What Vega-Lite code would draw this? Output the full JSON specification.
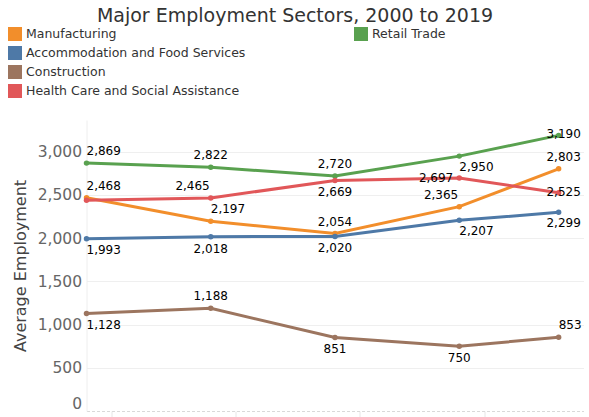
{
  "$schema": "https://vega.github.io/schema/vega-lite/v6.json",
  "width": 497,
  "height": 291,
  "autosize": {"type": "none"},
  "padding": {"left": 86.5, "top": 120, "right": 6, "bottom": 6},
  "background": "white",
  "title": {
    "text": "Major Employment Sectors, 2000 to 2019",
    "anchor": "middle",
    "frame": "group",
    "dx": -40,
    "dy": 20,
    "offset": 6,
    "baseline": "alphabetic",
    "font": "DejaVu Sans",
    "fontSize": 19,
    "fontWeight": "normal",
    "color": "#333333"
  },
  "config": {
    "view": {"stroke": null},
    "font": "DejaVu Sans",
    "legend": {
      "orient": "none",
      "legendX": -78.5,
      "legendY": -93,
      "columns": 2,
      "columnPadding": 108,
      "rowPadding": 5,
      "symbolType": "square",
      "symbolSize": 196,
      "symbolStrokeWidth": 0,
      "labelFont": "DejaVu Sans",
      "labelFontSize": 12.5,
      "labelColor": "#333333",
      "labelOffset": 4,
      "labelLimit": 400,
      "title": null
    }
  },
  "data": {
    "values": [
      {"sector": "Manufacturing", "year": 2000, "value": 2468},
      {"sector": "Manufacturing", "year": 2005, "value": 2197},
      {"sector": "Manufacturing", "year": 2010, "value": 2054},
      {"sector": "Manufacturing", "year": 2015, "value": 2365},
      {"sector": "Manufacturing", "year": 2019, "value": 2803},
      {"sector": "Retail Trade", "year": 2000, "value": 2869},
      {"sector": "Retail Trade", "year": 2005, "value": 2822},
      {"sector": "Retail Trade", "year": 2010, "value": 2720},
      {"sector": "Retail Trade", "year": 2015, "value": 2950},
      {"sector": "Retail Trade", "year": 2019, "value": 3190},
      {"sector": "Accommodation and Food Services", "year": 2000, "value": 1993},
      {"sector": "Accommodation and Food Services", "year": 2005, "value": 2018},
      {"sector": "Accommodation and Food Services", "year": 2010, "value": 2020},
      {"sector": "Accommodation and Food Services", "year": 2015, "value": 2207},
      {"sector": "Accommodation and Food Services", "year": 2019, "value": 2299},
      {"sector": "Construction", "year": 2000, "value": 1128},
      {"sector": "Construction", "year": 2005, "value": 1188},
      {"sector": "Construction", "year": 2010, "value": 851},
      {"sector": "Construction", "year": 2015, "value": 750},
      {"sector": "Construction", "year": 2019, "value": 853},
      {"sector": "Health Care and Social Assistance", "year": 2000, "value": 2440},
      {"sector": "Health Care and Social Assistance", "year": 2005, "value": 2465},
      {"sector": "Health Care and Social Assistance", "year": 2010, "value": 2669},
      {"sector": "Health Care and Social Assistance", "year": 2015, "value": 2697},
      {"sector": "Health Care and Social Assistance", "year": 2019, "value": 2525}
    ]
  },
  "encoding": {
    "x": {
      "field": "year",
      "type": "quantitative",
      "scale": {"domain": [2000, 2020], "nice": false, "zero": false},
      "axis": {
        "title": null,
        "labels": false,
        "values": [2001, 2006, 2011, 2016],
        "grid": false,
        "ticks": true,
        "tickSize": 10,
        "tickColor": "#e6e6e6",
        "domain": true,
        "domainColor": "#d9d9d9",
        "domainDash": [3, 2]
      }
    },
    "y": {
      "field": "value",
      "type": "quantitative",
      "scale": {"domain": [0, 3368], "nice": false},
      "axis": {
        "title": "Average Employment",
        "titleFont": "DejaVu Sans",
        "titleFontSize": 16,
        "titleFontWeight": "normal",
        "titleColor": "#444444",
        "titlePadding": 9,
        "values": [0, 500, 1000, 1500, 2000, 2500, 3000],
        "format": ",.0f",
        "labelFont": "DejaVu Sans",
        "labelFontSize": 15.5,
        "labelColor": "#666666",
        "labelPadding": 5,
        "labelFlush": true,
        "ticks": false,
        "grid": true,
        "gridColor": "#efefef",
        "gridOpacity": {"condition": {"test": "datum.value === 0", "value": 0}, "value": 1},
        "domain": true,
        "domainColor": "#eeeeee"
      }
    }
  },
  "layer": [
    {
      "mark": {"type": "line", "strokeWidth": 3},
      "encoding": {
        "color": {
          "field": "sector",
          "type": "nominal",
          "scale": {
            "domain": ["Manufacturing", "Accommodation and Food Services", "Construction", "Health Care and Social Assistance", "Retail Trade", "_a", "_b"],
            "range": ["#f28e2b", "#4e79a7", "#9c755f", "#e15759", "#59a14f", "transparent", "transparent"]
          },
          "legend": {
            "labelExpr": "indexof(datum.label, '_') === 0 ? '' : datum.label",
            "encode": {
              "symbols": {
                "update": {
                  "fill": {"scale": "color", "field": "value"},
                  "strokeWidth": {"value": 0},
                  "opacity": {"value": 1}
                }
              }
            }
          }
        }
      }
    },
    {
      "mark": {"type": "point", "filled": true, "size": 30, "opacity": 1},
      "encoding": {
        "color": {"field": "sector", "type": "nominal"}
      }
    },
    {
      "transform": [{"filter": "indexof(['Retail Trade2005','Retail Trade2010','Manufacturing2010','Construction2005'], datum.sector + datum.year) >= 0"}],
      "mark": {"type": "text", "align": "center", "baseline": "middle", "dy": -12, "fontSize": 12, "color": "#000000"},
      "encoding": {"text": {"field": "value", "type": "quantitative", "format": ","}}
    },
    {
      "transform": [{"filter": "indexof(['Retail Trade2000','Manufacturing2000','Manufacturing2005','Construction2019'], datum.sector + datum.year) >= 0"}],
      "mark": {"type": "text", "align": "left", "baseline": "middle", "dx": 0, "dy": -12, "fontSize": 12, "color": "#000000"},
      "encoding": {"text": {"field": "value", "type": "quantitative", "format": ","}}
    },
    {
      "transform": [{"filter": "indexof(['Health Care and Social Assistance2005','Manufacturing2015'], datum.sector + datum.year) >= 0"}],
      "mark": {"type": "text", "align": "right", "baseline": "middle", "dx": -1, "dy": -12, "fontSize": 12, "color": "#000000"},
      "encoding": {"text": {"field": "value", "type": "quantitative", "format": ","}}
    },
    {
      "transform": [{"filter": "indexof(['Health Care and Social Assistance2010','Accommodation and Food Services2005','Accommodation and Food Services2010','Construction2010','Construction2015'], datum.sector + datum.year) >= 0"}],
      "mark": {"type": "text", "align": "center", "baseline": "middle", "dy": 12, "fontSize": 12, "color": "#000000"},
      "encoding": {"text": {"field": "value", "type": "quantitative", "format": ","}}
    },
    {
      "transform": [{"filter": "indexof(['Retail Trade2015','Accommodation and Food Services2000','Accommodation and Food Services2015','Construction2000'], datum.sector + datum.year) >= 0"}],
      "mark": {"type": "text", "align": "left", "baseline": "middle", "dx": 0, "dy": 11, "fontSize": 12, "color": "#000000"},
      "encoding": {"text": {"field": "value", "type": "quantitative", "format": ","}}
    },
    {
      "transform": [{"filter": "indexof(['Health Care and Social Assistance2015'], datum.sector + datum.year) >= 0"}],
      "mark": {"type": "text", "align": "right", "baseline": "middle", "dx": -6, "dy": 0, "fontSize": 12, "color": "#000000"},
      "encoding": {"text": {"field": "value", "type": "quantitative", "format": ","}}
    },
    {
      "transform": [{"filter": "indexof(['Retail Trade2019','Health Care and Social Assistance2019'], datum.sector + datum.year) >= 0"}],
      "mark": {"type": "text", "align": "center", "baseline": "middle", "dx": 5, "dy": -1, "fontSize": 12, "color": "#000000"},
      "encoding": {"text": {"field": "value", "type": "quantitative", "format": ","}}
    },
    {
      "transform": [{"filter": "indexof(['Manufacturing2019'], datum.sector + datum.year) >= 0"}],
      "mark": {"type": "text", "align": "center", "baseline": "middle", "dx": 5, "dy": -12, "fontSize": 12, "color": "#000000"},
      "encoding": {"text": {"field": "value", "type": "quantitative", "format": ","}}
    },
    {
      "transform": [{"filter": "indexof(['Accommodation and Food Services2019'], datum.sector + datum.year) >= 0"}],
      "mark": {"type": "text", "align": "center", "baseline": "middle", "dx": 5, "dy": 11, "fontSize": 12, "color": "#000000"},
      "encoding": {"text": {"field": "value", "type": "quantitative", "format": ","}}
    }
  ]
}
